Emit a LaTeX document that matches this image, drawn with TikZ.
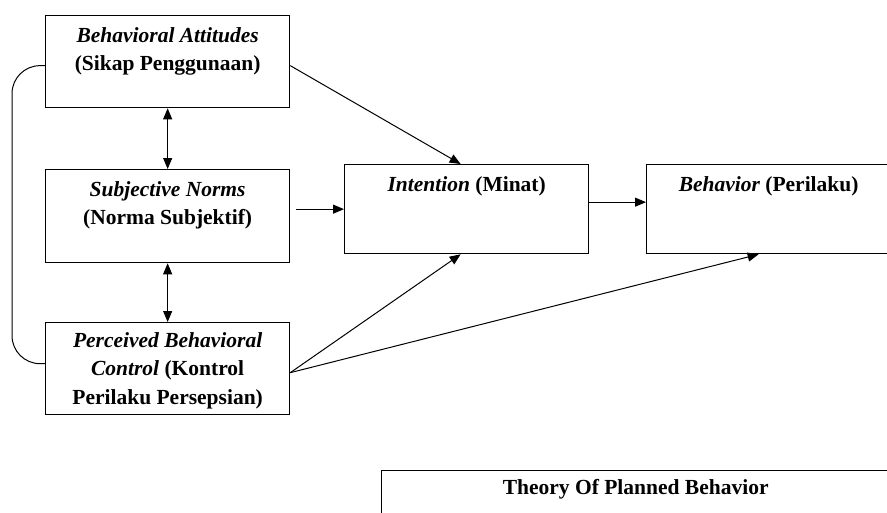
\documentclass[tikz,border=0pt]{standalone}
\usepackage{fontspec}
\setmainfont{Liberation Serif}
\usetikzlibrary{arrows.meta,calc}
\begin{document}
\begin{tikzpicture}[x=1pt,y=-1pt,
  box/.style={draw=black,line width=1.3pt,minimum width=244pt,minimum height=92pt,anchor=north west,inner sep=0pt},
  txt/.style={anchor=north,align=center,inner sep=0pt,font=\fontsize{21.5}{28.5}\selectfont\bfseries,yshift=-12pt},
  arr/.style={line width=1pt,-{Triangle[length=11pt,width=9pt]}},
  darr/.style={line width=1pt,{Triangle[length=11pt,width=9pt]}-{Triangle[length=11pt,width=9pt]}}]
\clip (0,0) rectangle (887,512);
\fill[white] (0,0) rectangle (887,512);
\node[box,label={[txt]north:{\itshape Behavioral Attitudes}\\(Sikap Penggunaan)}] (A) at (45,15) {};
\node[box,minimum height=93pt,label={[txt]north:{\itshape Subjective Norms}\\(Norma Subjektif)}] (S) at (45,169) {};
\node[box,label={[txt,yshift=2pt]north:{\itshape Perceived Behavioral}\\{\itshape Control} (Kontrol\\Perilaku Persepsian)}] (P) at (45,322) {};
\node[box,minimum height=89pt,label={[txt]north:{\itshape Intention} (Minat)}] (I) at (344,164) {};
\node[box,minimum height=89pt,label={[txt]north:{\itshape Behavior} (Perilaku)}] (B) at (646,164) {};
\node[box,minimum width=508pt,minimum height=70pt,label={[txt,yshift=3pt]north:Theory Of Planned Behavior}] (T) at (381,470) {};
\draw[line width=1pt,rounded corners=28pt] ([yshift=-4pt]A.west) -- ++(-33,0) |- ([yshift=5pt]P.west);
\draw[darr] (A.south) -- (S.north);
\draw[darr] (S.south) -- (P.north);
\draw[arr] ([yshift=-4pt]A.east) -- ([xshift=-6pt]I.north);
\draw[arr] ([xshift=6pt]S.east |- I.west) -- (I.west);
\draw[arr] ([yshift=7pt]I.east) -- ([yshift=7pt]B.west);
\draw[arr] ([yshift=-4pt]P.east) -- ([xshift=-6pt]I.south);
\draw[arr] ([yshift=-4pt]P.east) -- ([xshift=-10pt]B.south);
\end{tikzpicture}
\end{document}
